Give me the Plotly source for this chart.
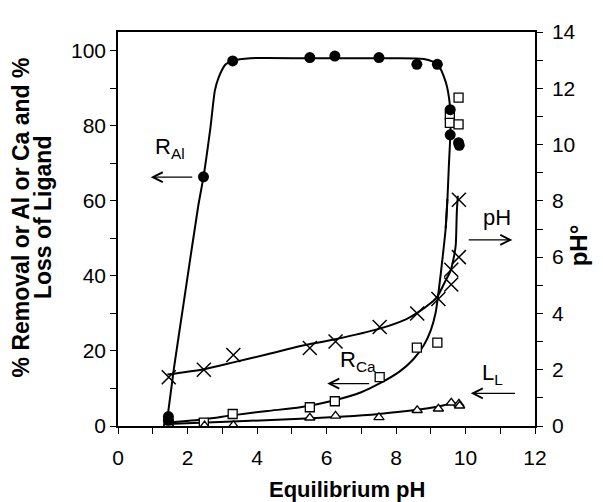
import plotly.graph_objects as go

# ---------------- data ----------------
# Al removal (filled circles), % (left axis)
al_x = [1.45, 1.45, 2.46, 3.30, 5.52, 6.24, 7.51, 8.60, 9.19, 9.56, 9.56, 9.80, 9.82]
al_y = [2.5, 1.5, 66.4, 97.3, 98.2, 98.6, 98.2, 96.4, 96.4, 84.3, 77.6, 75.5, 74.8]

# Ca removal (open squares), % (left axis)
ca_x = [1.45, 2.47, 3.30, 5.52, 6.24, 7.53, 8.60, 9.19, 9.55, 9.55, 9.80, 9.80]
ca_y = [0.5, 0.9, 3.2, 5.0, 6.6, 13.0, 20.9, 22.2, 83.0, 80.8, 87.5, 80.4]

# Loss of ligand (open triangles), % (left axis)
ll_x = [1.45, 2.49, 3.32, 5.52, 6.26, 7.51, 8.61, 9.22, 9.59, 9.81, 9.83]
ll_y = [0.5, 0.1, 0.2, 2.2, 2.7, 2.3, 4.2, 4.6, 6.2, 5.9, 5.4]

# Initial pH (crosses), right axis
ph_x = [1.46, 2.47, 3.32, 5.52, 6.26, 7.53, 8.61, 9.22, 9.59, 9.59, 9.81, 9.81]
ph_y = [1.73, 2.00, 2.52, 2.77, 3.00, 3.52, 4.00, 4.51, 5.03, 5.55, 6.00, 8.04]

# fitted curves
al_fit_x = [1.42, 1.61, 1.89, 2.31, 2.46, 2.66, 2.79, 2.90, 3.10, 3.30, 3.81, 5.5, 7.5, 8.8, 9.19, 9.43, 9.55, 9.57, 9.52, 9.48, 9.43]
al_fit_y = [2.0, 15.4, 32.8, 58.7, 66.4, 79.5, 89.5, 93.0, 96.4, 97.3, 98.0, 98.0, 98.0, 97.8, 96.4, 91.7, 85.6, 79.5, 69.1, 60.5, 52.7]

ca_fit_x = [1.42, 2.5, 3.33, 4.3, 5.25, 6.21, 7.0, 7.5, 8.1, 8.5, 8.8, 9.0, 9.14, 9.22, 9.33, 9.43, 9.48]
ca_fit_y = [0.9, 1.8, 2.9, 4.0, 5.0, 6.8, 9.0, 11.2, 14.5, 17.8, 21.5, 25.5, 30.2, 35.4, 44.0, 52.7, 60.5]

ll_fit_x = [1.42, 3.3, 5.25, 6.5, 7.51, 8.61, 9.22, 9.57, 9.9]
ll_fit_y = [0.5, 1.2, 1.9, 2.5, 3.2, 4.3, 5.2, 5.9, 6.2]

ph_fit_x = [1.42, 2.47, 3.32, 4.3, 5.25, 6.21, 7.53, 8.3, 8.61, 9.0, 9.19, 9.4, 9.57, 9.68, 9.72, 9.75, 9.78]
ph_fit_y = [1.83, 2.02, 2.26, 2.55, 2.84, 3.07, 3.46, 3.8, 4.02, 4.37, 4.6, 5.1, 5.52, 6.1, 6.44, 7.6, 8.18]

x_ticks = [0, 2, 4, 6, 8, 10, 12]
y_ticks = [0, 20, 40, 60, 80, 100]
y2_ticks = [0, 2, 4, 6, 8, 10, 12, 14]

FONT = "Liberation Sans, Arial, sans-serif"
BLK = "black"

fig = go.Figure()

line_style = dict(color=BLK, width=2, shape="spline", smoothing=0.7)
fig.add_trace(go.Scatter(x=al_fit_x, y=al_fit_y, mode="lines", line=line_style, hoverinfo="skip"))
fig.add_trace(go.Scatter(x=ca_fit_x, y=ca_fit_y, mode="lines", line=line_style, hoverinfo="skip"))
fig.add_trace(go.Scatter(x=ll_fit_x, y=ll_fit_y, mode="lines", line=line_style, hoverinfo="skip"))
fig.add_trace(go.Scatter(x=ph_fit_x, y=ph_fit_y, mode="lines", line=line_style, yaxis="y2", hoverinfo="skip"))

fig.add_trace(go.Scatter(x=ph_x, y=ph_y, mode="markers", yaxis="y2",
                         marker=dict(symbol="x-thin", size=14, line=dict(color=BLK, width=1.5))))
fig.add_trace(go.Scatter(x=ca_x, y=ca_y, mode="markers",
                         marker=dict(symbol="square", size=9, color="white", line=dict(color=BLK, width=1.3))))
fig.add_trace(go.Scatter(x=ll_x, y=ll_y, mode="markers",
                         marker=dict(symbol="triangle-up", size=9, color="white", line=dict(color=BLK, width=1.3))))
fig.add_trace(go.Scatter(x=al_x, y=al_y, mode="markers",
                         marker=dict(symbol="circle", size=11, color=BLK, line=dict(color=BLK, width=0))))

axis_common = dict(showline=True, linewidth=1.5, linecolor=BLK, ticks="outside", ticklen=6,
                   tickwidth=1.3, tickcolor=BLK, showgrid=False, zeroline=False,
                   tickfont=dict(family=FONT, size=21, color=BLK))

fig.update_layout(
    width=603, height=502,
    margin=dict(l=110, r=76, t=14, b=84),
    plot_bgcolor="white", paper_bgcolor="white",
    font=dict(family=FONT, size=20, color=BLK),
    showlegend=False,
    xaxis=dict(range=[0, 12], tickvals=x_ticks, mirror=True, ticklabelstandoff=6,
               minor=dict(dtick=1, ticks="outside", ticklen=6, tickwidth=1.3, tickcolor=BLK),
               **axis_common),
    yaxis=dict(range=[0, 105], tickvals=y_ticks,
               minor=dict(dtick=10, ticks="outside", ticklen=6, tickwidth=1.3, tickcolor=BLK),
               **axis_common),
    yaxis2=dict(range=[0, 14], tickvals=y2_ticks, overlaying="y", side="right", ticklabelstandoff=5,
                minor=dict(dtick=1, ticks="outside", ticklen=6, tickwidth=1.3, tickcolor=BLK),
                **axis_common),
)

ann = []
# axis titles
ann.append(dict(text="<b>Equilibrium pH</b>", xref="paper", yref="paper", x=0.549, y=-0.16,
                xanchor="center", yanchor="middle", showarrow=False, font=dict(size=22)))
ann.append(dict(text="<b>% Removal or Al or Ca and %</b>", xref="paper", yref="paper", x=-0.232, y=0.53,
                xanchor="center", yanchor="middle", textangle=-90, showarrow=False, font=dict(size=23)))
ann.append(dict(text="<b>Loss of Ligand</b>", xref="paper", yref="paper", x=-0.18, y=0.53,
                xanchor="center", yanchor="middle", textangle=-90, showarrow=False, font=dict(size=23)))
ann.append(dict(text="<b>pH°</b>", xref="paper", yref="paper", x=1.105, y=0.458,
                xanchor="center", yanchor="middle", textangle=-90, showarrow=False, font=dict(size=24)))

# series labels
ann.append(dict(text="R<sub>Al</sub>", x=1.51, y=74.0, xref="x", yref="y", showarrow=False, font=dict(size=22)))
ann.append(dict(text="pH", x=10.9, y=55.6, xref="x", yref="y", showarrow=False, font=dict(size=22)))
ann.append(dict(text="R<sub>Ca</sub>", x=6.9, y=17.4, xref="x", yref="y", showarrow=False, font=dict(size=22)))
ann.append(dict(text="L<sub>L</sub>", x=10.78, y=13.8, xref="x", yref="y", showarrow=False, font=dict(size=22)))

# arrows (head at x,y ; tail at ax,ay)
arrow_style = dict(showarrow=True, text="", xref="x", yref="y", axref="x", ayref="y",
                   arrowhead=5, arrowsize=1.5, arrowwidth=1.3, arrowcolor=BLK)
ann.append(dict(x=0.94, y=66.3, ax=2.18, ay=66.3, **arrow_style))
ann.append(dict(x=11.35, y=49.6, ax=10.05, ay=49.6, **arrow_style))
ann.append(dict(x=6.02, y=11.3, ax=7.27, ay=11.3, **arrow_style))
ann.append(dict(x=10.15, y=8.7, ax=11.47, ay=8.7, **arrow_style))

fig.update_layout(annotations=ann)

fig.write_html("out.html")
